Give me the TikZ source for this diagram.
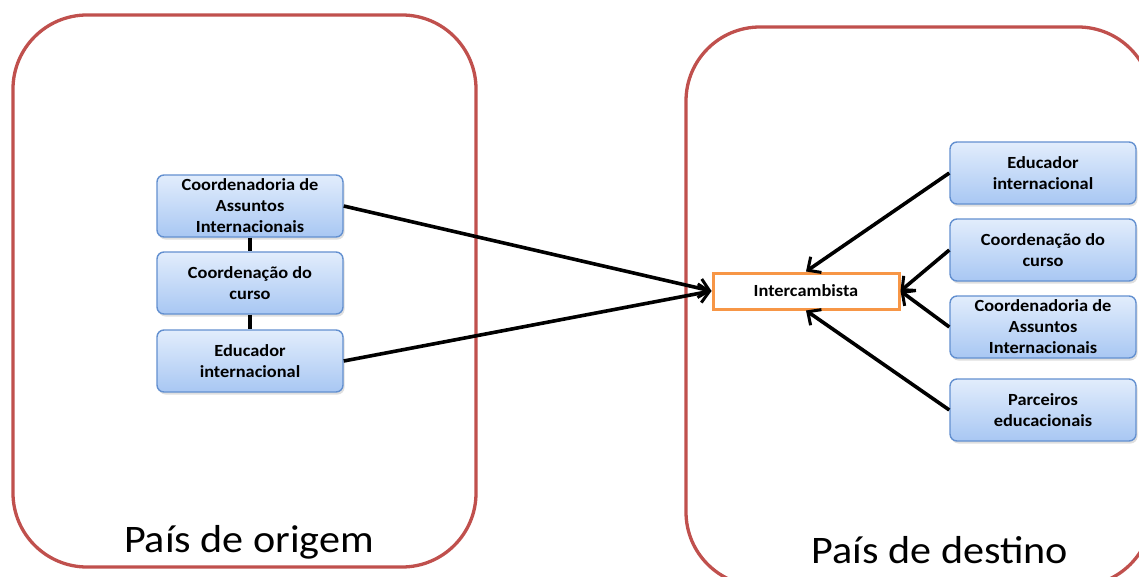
\documentclass[tikz,border=0pt]{standalone}
\usepackage{fontspec}
\setmainfont{Carlito}[FakeStretch=1.08]
\usetikzlibrary{arrows.meta,shadows}
\definecolor{regred}{HTML}{C0504D}
\definecolor{boxtop}{HTML}{E2EDFC}
\definecolor{boxbot}{HTML}{A8C7F3}
\definecolor{boxline}{HTML}{6390D0}
\definecolor{interorange}{HTML}{F79646}
\tikzset{
  region/.style={draw=regred, line width=3.3pt, rounded corners=74pt},
  bluebox/.style={draw=boxline, line width=1.4pt, rounded corners=7pt,
    top color=boxtop, bottom color=boxbot, minimum width=186pt, minimum height=62pt,
    inner sep=0pt, align=center, font=\fontsize{17}{21}\selectfont\bfseries,
    drop shadow={shadow xshift=1.5pt, shadow yshift=-2.5pt, opacity=0.25}},
  interbox/.style={draw=interorange, line width=3pt, fill=white, minimum width=186pt,
    minimum height=36pt, inner sep=0pt, font=\fontsize{17}{21}\selectfont\bfseries},
  flow/.style={line width=3.6pt, -{Straight Barb[length=10pt,width=19pt,line width=3pt]}},
  joint/.style={line width=3.6pt},
  regionlabel/.style={font=\fontsize{39}{44}\selectfont, inner sep=0pt}
}
\begin{document}
\begin{tikzpicture}[x=1pt,y=-1pt]
\useasboundingbox (0,0) rectangle (1139,576);
\fill[white] (0,0) rectangle (1139,576);
% regions
\draw[region] (13,15) rectangle (476,567);
\draw[region] (686,27) rectangle (1152,586);
\node[regionlabel, anchor=base] (lorig) at (249,552) {País de origem};
\node[regionlabel, anchor=base] (ldest) at (940,563) {País de destino};
% left boxes
\node[bluebox] (la) at (250,206) {Coordenadoria de\\Assuntos\\Internacionais};
\node[bluebox] (lb) at (250,283) {Coordenação do\\curso};
\node[bluebox] (lc) at (250,361) {Educador\\internacional};
\draw[joint] (la.south) -- (lb.north);
\draw[joint] (lb.south) -- (lc.north);
% intercambista
\node[interbox] (inter) at (806,291) {Intercambista};
% right boxes
\node[bluebox] (ra) at (1043,173) {Educador\\internacional};
\node[bluebox] (rb) at (1043,250) {Coordenação do\\curso};
\node[bluebox] (rc) at (1043,327) {Coordenadoria de\\Assuntos\\Internacionais};
\node[bluebox] (rd) at (1043,410) {Parceiros\\educacionais};
% arrows
\draw[flow] (la.east) -- (inter.west);
\draw[flow] (lc.east) -- (inter.west);
\draw[flow] (ra.west) -- (inter.north);
\draw[flow] (rb.west) -- (inter.east);
\draw[flow] (rc.west) -- (inter.east);
\draw[flow] (rd.west) -- (inter.south);
\end{tikzpicture}
\end{document}
